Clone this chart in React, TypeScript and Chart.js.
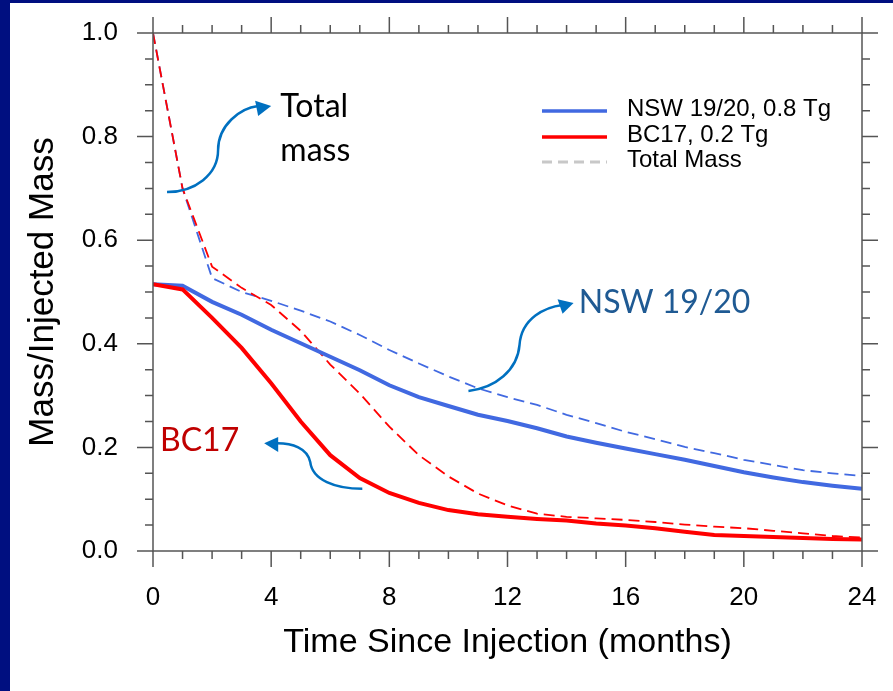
import React, { useEffect, useRef } from "react";
import { Chart, registerables } from "chart.js";

Chart.register(...registerables);

// ---------------- data ----------------
const months = [0, 1, 2, 3, 4, 5, 6, 7, 8, 9, 10, 11, 12, 13, 14, 15, 16, 17, 18, 19, 20, 21, 22, 23, 24];

const nswMass = [0.515, 0.512, 0.481, 0.456, 0.427, 0.401, 0.375, 0.349, 0.32, 0.297, 0.28, 0.263, 0.251, 0.237, 0.221, 0.209, 0.198, 0.187, 0.176, 0.164, 0.152, 0.142, 0.133, 0.126, 0.12];
const bc17Mass = [0.515, 0.505, 0.45, 0.392, 0.324, 0.25, 0.185, 0.141, 0.112, 0.093, 0.079, 0.071, 0.066, 0.062, 0.059, 0.053, 0.049, 0.044, 0.037, 0.031, 0.029, 0.027, 0.025, 0.023, 0.022];
const nswTotal = [1.0, 0.70, 0.527, 0.50, 0.483, 0.464, 0.443, 0.417, 0.388, 0.362, 0.337, 0.314, 0.297, 0.282, 0.263, 0.247, 0.23, 0.216, 0.201, 0.189, 0.176, 0.166, 0.156, 0.15, 0.145];
const bc17Total = [1.0, 0.70, 0.549, 0.508, 0.475, 0.425, 0.36, 0.304, 0.24, 0.185, 0.144, 0.111, 0.088, 0.072, 0.066, 0.063, 0.06, 0.056, 0.051, 0.047, 0.044, 0.039, 0.034, 0.029, 0.026];

const xMin = 0;
const xMax = 24;
const xMajorStep = 4;
const xMinorStep = 1;
const yMin = 0;
const yMax = 1;
const yMajorStep = 0.2;
const yMinorStep = 0.05;

const legendLabels = ["NSW 19/20, 0.8 Tg", "BC17, 0.2 Tg", "Total Mass"];
const xTitle = "Time Since Injection (months)";
const yTitle = "Mass/Injected Mass";

// annotations (in data coordinates)
const totalLabel = { lines: ["Total", "mass"], at: [[4.31, 0.838], [4.31, 0.752]] };
const nswLabel = { text: "NSW 19/20", at: [14.41, 0.459] };
const bcLabel = { text: "BC17", at: [0.237, 0.194] };

const totalArrowPath = [[0.475, 0.693], [1.424, 0.693], [2.203, 0.727], [2.203, 0.774], [2.203, 0.822], [2.949, 0.855], [3.559, 0.859]];
const totalArrowHead = [[4.0, 0.859], [3.458, 0.869], [3.559, 0.84]];
const nswArrowPath = [[10.678, 0.309], [11.593, 0.315], [12.339, 0.349], [12.407, 0.398], [12.475, 0.45], [13.288, 0.471], [13.864, 0.475]];
const nswArrowHead = [[14.237, 0.479], [13.695, 0.486], [13.864, 0.458]];
const bcArrowPath = [[7.085, 0.12], [6.169, 0.12], [5.39, 0.137], [5.322, 0.172], [5.22, 0.199], [4.712, 0.208], [4.203, 0.208]];
const bcArrowHead = [[3.763, 0.208], [4.237, 0.22], [4.237, 0.191]];

// ---------------- styles ----------------
const BLUE = "#4169E1";
const RED = "#FF0000";
const NAVY = "#000F80";
const FRAME = "#555555";
const ARROW = "#0070C0";
const SANS = '"Liberation Sans", Arial, Helvetica, sans-serif';
const CALLOUT = 'Lato, "Open Sans", sans-serif';

const pts = (arr: number[]) => months.map((m, i) => ({ x: m, y: arr[i] }));

const decorPlugin = {
  id: "decor",
  beforeDraw(chart: any) {
    const ctx = chart.ctx;
    ctx.save();
    ctx.fillStyle = "#ffffff";
    ctx.fillRect(0, 0, chart.width, chart.height);
    ctx.fillStyle = NAVY;
    ctx.fillRect(0, 0, 10, chart.height);
    ctx.fillRect(0, 0, chart.width, 3);
    ctx.restore();
  },
  afterDatasetsDraw(chart: any) {
    const ctx = chart.ctx;
    const a = chart.chartArea;
    const xs = chart.scales.x;
    const ys = chart.scales.y;
    const X = (v: number) => xs.getPixelForValue(v);
    const Y = (v: number) => ys.getPixelForValue(v);

    // frame + ticks on all four sides (outward)
    ctx.save();
    ctx.strokeStyle = FRAME;
    ctx.lineWidth = 1.5;
    ctx.strokeRect(a.left, a.top, a.right - a.left, a.bottom - a.top);
    ctx.beginPath();
    const nx = Math.round((xMax - xMin) / xMinorStep);
    for (let i = 0; i <= nx; i++) {
      const v = xMin + i * xMinorStep;
      const major = Math.abs(v / xMajorStep - Math.round(v / xMajorStep)) < 1e-6;
      const len = major ? 16 : 8;
      const px = X(v);
      ctx.moveTo(px, a.bottom);
      ctx.lineTo(px, a.bottom + len);
      ctx.moveTo(px, a.top);
      ctx.lineTo(px, a.top - len);
    }
    const ny = Math.round((yMax - yMin) / yMinorStep);
    for (let i = 0; i <= ny; i++) {
      const v = yMin + i * yMinorStep;
      const major = Math.abs(v / yMajorStep - Math.round(v / yMajorStep)) < 1e-6;
      const len = major ? 16 : 8;
      const py = Y(v);
      ctx.moveTo(a.left, py);
      ctx.lineTo(a.left - len, py);
      ctx.moveTo(a.right, py);
      ctx.lineTo(a.right + len, py);
    }
    ctx.stroke();
    ctx.restore();

    // legend
    ctx.save();
    const lx0 = a.left + 389;
    const lx1 = a.left + 454;
    const tx = a.left + 474;
    const rows = [a.top + 78, a.top + 104, a.top + 129];
    const styles = [
      { c: BLUE, w: 3.5, d: [] as number[] },
      { c: RED, w: 3.5, d: [] as number[] },
      { c: "#C8C8C8", w: 3, d: [10, 6] },
    ];
    rows.forEach((ry, i) => {
      ctx.beginPath();
      ctx.strokeStyle = styles[i].c;
      ctx.lineWidth = styles[i].w;
      ctx.setLineDash(styles[i].d);
      ctx.moveTo(lx0, ry);
      ctx.lineTo(lx1, ry);
      ctx.stroke();
      ctx.setLineDash([]);
      ctx.fillStyle = "#000";
      ctx.font = `24px ${SANS}`;
      ctx.textAlign = "left";
      ctx.textBaseline = "middle";
      ctx.fillText(legendLabels[i], tx, ry - 1.5);
    });
    ctx.restore();

    // callouts
    ctx.save();
    ctx.textAlign = "left";
    ctx.textBaseline = "alphabetic";
    ctx.font = `32px ${CALLOUT}`;
    ctx.fillStyle = "#000000";
    totalLabel.lines.forEach((t, i) => ctx.fillText(t, X(totalLabel.at[i][0]), Y(totalLabel.at[i][1])));
    ctx.fillStyle = "#1F5A93";
    ctx.fillText(nswLabel.text, X(nswLabel.at[0]), Y(nswLabel.at[1]));
    ctx.fillStyle = "#C00000";
    ctx.fillText(bcLabel.text, X(bcLabel.at[0]), Y(bcLabel.at[1]));

    const drawArrow = (path: number[][], head: number[][]) => {
      ctx.beginPath();
      ctx.strokeStyle = ARROW;
      ctx.lineWidth = 2.5;
      ctx.moveTo(X(path[0][0]), Y(path[0][1]));
      for (let i = 1; i + 2 < path.length; i += 3) {
        ctx.bezierCurveTo(
          X(path[i][0]), Y(path[i][1]),
          X(path[i + 1][0]), Y(path[i + 1][1]),
          X(path[i + 2][0]), Y(path[i + 2][1])
        );
      }
      ctx.stroke();
      ctx.beginPath();
      ctx.fillStyle = ARROW;
      ctx.moveTo(X(head[0][0]), Y(head[0][1]));
      ctx.lineTo(X(head[1][0]), Y(head[1][1]));
      ctx.lineTo(X(head[2][0]), Y(head[2][1]));
      ctx.closePath();
      ctx.fill();
    };
    drawArrow(totalArrowPath, totalArrowHead);
    drawArrow(nswArrowPath, nswArrowHead);
    drawArrow(bcArrowPath, bcArrowHead);
    ctx.restore();
  },
};

export default function App() {
  const ref = useRef<HTMLCanvasElement>(null);

  useEffect(() => {
    if (!ref.current) return;
    const chart = new Chart(ref.current, {
      type: "line",
      data: {
        datasets: [
          { label: legendLabels[1], data: pts(bc17Mass), borderColor: RED, borderWidth: 4, pointRadius: 0, fill: false, tension: 0 },
          { label: legendLabels[0], data: pts(nswMass), borderColor: BLUE, borderWidth: 4, pointRadius: 0, fill: false, tension: 0 },
          { label: "BC17 total", data: pts(bc17Total), borderColor: RED, borderWidth: 1.8, borderDash: [11, 6], pointRadius: 0, fill: false, tension: 0 },
          { label: "NSW total", data: pts(nswTotal), borderColor: BLUE, borderWidth: 1.8, borderDash: [11, 6], pointRadius: 0, fill: false, tension: 0 },
        ],
      },
      options: {
        responsive: false,
        animation: false,
        devicePixelRatio: 1,
        layout: { padding: { left: 0, right: 31, top: 33, bottom: 0 } },
        plugins: { legend: { display: false }, tooltip: { enabled: false } },
        scales: {
          x: {
            type: "linear",
            min: xMin,
            max: xMax,
            afterFit: (s: any) => { s.height = 140; s.paddingLeft = 0; s.paddingRight = 0; },
            grid: { display: false, drawTicks: false },
            border: { display: false },
            ticks: { stepSize: xMajorStep, padding: 31, color: "#000", autoSkip: false, maxRotation: 0, font: { family: SANS, size: 26 } },
            title: { display: true, text: xTitle, color: "#000", font: { family: SANS, size: 34 }, padding: { top: 0, bottom: 28 } },
          },
          y: {
            type: "linear",
            min: yMin,
            max: yMax,
            afterFit: (s: any) => { s.width = 153; s.paddingTop = 0; s.paddingBottom = 0; },
            grid: { display: false, drawTicks: false },
            border: { display: false },
            ticks: { stepSize: yMajorStep, padding: 35, color: "#000", font: { family: SANS, size: 26 }, callback: (v: any) => Number(v).toFixed(1) },
            title: { display: true, text: yTitle, color: "#000", font: { family: SANS, size: 35 }, padding: { top: 22, bottom: 0 } },
          },
        },
      },
      plugins: [decorPlugin],
    } as any);
    return () => chart.destroy();
  }, []);

  return (
    <div style={{ position: "fixed", left: 0, top: 0, width: 893, height: 691, background: "#fff" }}>
      <canvas ref={ref} width={893} height={691} style={{ display: "block", width: 893, height: 691 }} />
    </div>
  );
}
